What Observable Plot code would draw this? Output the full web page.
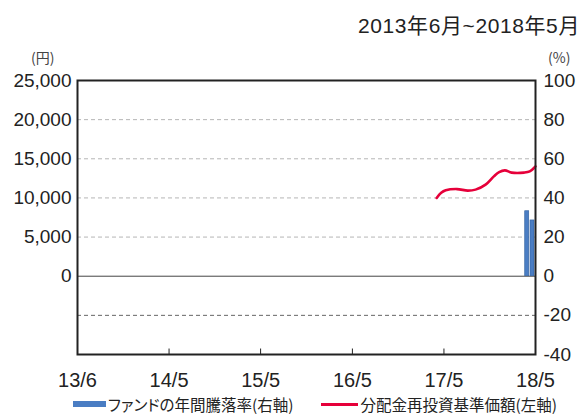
<!DOCTYPE html>
<html>
<head>
<meta charset="utf-8">
<script src="https://cdn.jsdelivr.net/npm/d3@7"></script>
<script src="https://cdn.jsdelivr.net/npm/@observablehq/plot@0.6"></script>
<style>
  html, body { margin: 0; padding: 0; background: #fff; }
  #wrap { position: relative; width: 584px; height: 414px; overflow: hidden; font-family: "Liberation Sans", Arial, sans-serif; }
  #chart { position: absolute; left: 0; top: 0; }
  .abs { position: absolute; white-space: nowrap; color: #222; }
  #title { right: 4px; top: 9px; font-family: "Liberation Sans", "Noto Sans CJK JP", sans-serif; font-size: 21px; letter-spacing: 0.6px; }
  #unitL { left: 31px; top: 47px; font-family: "Noto Sans CJK JP", sans-serif; font-size: 14px; color: #444; }
  #unitR { left: 548px; top: 47px; font-family: "Noto Sans CJK JP", sans-serif; font-size: 14px; color: #444; }
  #legend { left: 73px; top: 395px; height: 18px; line-height: 18px; font-family: "Noto Sans CJK JP", sans-serif; font-size: 15.5px; display: flex; align-items: center; }
  .sw { display: inline-block; }
  .palt { font-feature-settings: "palt" 1; line-height: 18px; }
</style>
</head>
<body>
<div id="wrap">
  <div id="chart"></div>
  <div class="abs" id="title"></div>
  <div class="abs" id="unitL"></div>
  <div class="abs" id="unitR"></div>
  <div class="abs" id="legend"></div>
</div>
<script>
// ---- data ----
const titleText = "2013年6月~2018年5月";
const unitLeft = "(円)";
const unitRight = "(%)";
const seriesNames = ["ファンドの年間騰落率(右軸)", "分配金再投資基準価額(左軸)"];
const seriesColors = ["#4a7dc3", "#e6003a"];

// 分配金再投資基準価額 (円, left axis)
const navDates = ["2017-05-02","2017-05-20","2017-06-07","2017-07-22","2017-09-03","2017-10-04","2017-11-13","2017-12-16","2018-01-06","2018-01-29","2018-02-25","2018-04-15","2018-05-08","2018-05-31"];
const navValues = [10000, 10650, 10970, 11130, 10930, 11060, 11700, 12750, 13300, 13520, 13230, 13230, 13390, 14030];

// ファンドの年間騰落率 (%, right axis)
const barDates = ["2018-04-28", "2018-05-19"];
const barValues = [33.2, 28.5];

// axes
const xDomain = ["2013-05-31", "2018-05-31"];
const xTickDates = ["2013-05-31", "2014-05-31", "2015-05-31", "2016-05-31", "2017-05-31", "2018-05-31"];
const xTickLabels = ["13/6", "14/5", "15/5", "16/5", "17/5", "18/5"];
const leftTicks = [0, 5000, 10000, 15000, 20000, 25000];
const rightTicks = [-40, -20, 0, 20, 40, 60, 80, 100];
const leftDomain = [-10000, 25000];
const ratio = 250; // 1% on right axis = 250円 on left axis
const gridLeft = [5000, 10000, 15000, 20000];
const gridRight = [-20];

// ---- build ----
const D = s => new Date(s + "T00:00:00Z");
const DAY = 86400000;
const nav = navDates.map((d, i) => ({date: D(d), value: navValues[i]}));
const bars = barDates.map((d, i) => ({date: D(d), value: barValues[i] * ratio}));
const tickData = xTickDates.map((d, i) => ({date: D(d), label: xTickLabels[i]}));
const fmt = d3.format(",");

const plot = Plot.plot({
  width: 584,
  height: 414,
  marginLeft: 77,
  marginRight: 49,
  marginTop: 80,
  marginBottom: 60,
  style: {fontFamily: "'Liberation Sans', Arial, sans-serif", fontSize: "19px", color: "#222", background: "transparent"},
  x: {type: "utc", domain: xDomain.map(D)},
  y: {domain: leftDomain},
  marks: [
    Plot.ruleY(gridLeft, {stroke: "#b5b5b5", strokeDasharray: "4,3", strokeWidth: 1}),
    Plot.ruleY(gridRight.map(v => v * ratio), {stroke: "#666", strokeDasharray: "4,3", strokeWidth: 1}),
    Plot.ruleY([0], {stroke: "#444", strokeWidth: 1}),
    Plot.rectY(bars, {
      x1: d => new Date(+d.date - 8 * DAY),
      x2: d => new Date(+d.date + 8 * DAY),
      y1: 0, y2: "value",
      fill: seriesColors[0], stroke: "#2f5f9e", strokeWidth: 0.6
    }),
    Plot.line(nav, {x: "date", y: "value", stroke: seriesColors[1], strokeWidth: 2.6, curve: "catmull-rom"}),
    Plot.ruleX(tickData.slice(1, -1), {x: "date", y1: leftDomain[0], y2: leftDomain[0] + 700, stroke: "#222", strokeWidth: 1}),
    Plot.frame({stroke: "#222", strokeWidth: 2}),
    Plot.axisY({anchor: "left", ticks: leftTicks, tickSize: 0, tickPadding: 6, tickFormat: fmt, label: null, fontSize: 19}),
    Plot.axisY({anchor: "right", ticks: rightTicks.map(v => v * ratio), tickSize: 0, tickPadding: 8, tickFormat: v => String(v / ratio), label: null, fontSize: 19}),
    Plot.axisX({ticks: tickData.map(d => d.date), tickSize: 0, tickPadding: 18, tickFormat: (d, i) => xTickLabels[i], label: null, fontSize: 20})
  ]
});
document.getElementById("chart").appendChild(plot);

document.getElementById("title").textContent = titleText;
document.getElementById("unitL").textContent = unitLeft;
document.getElementById("unitR").textContent = unitRight;

const leg = document.getElementById("legend");
leg.innerHTML = "";
const mk = (color, h, w, text, gapL) => {
  const s = document.createElement("span");
  s.className = "sw";
  s.style.cssText = `width:${w}px;height:${h}px;background:${color};margin-left:${gapL}px;margin-right:2px;`;
  const t = document.createElement("span");
  t.className = "palt";
  t.textContent = text;
  leg.appendChild(s); leg.appendChild(t);
};
mk(seriesColors[0], 6, 33, seriesNames[0], 0);
mk(seriesColors[1], 3, 37, seriesNames[1], 28);
</script>
</body>
</html>
